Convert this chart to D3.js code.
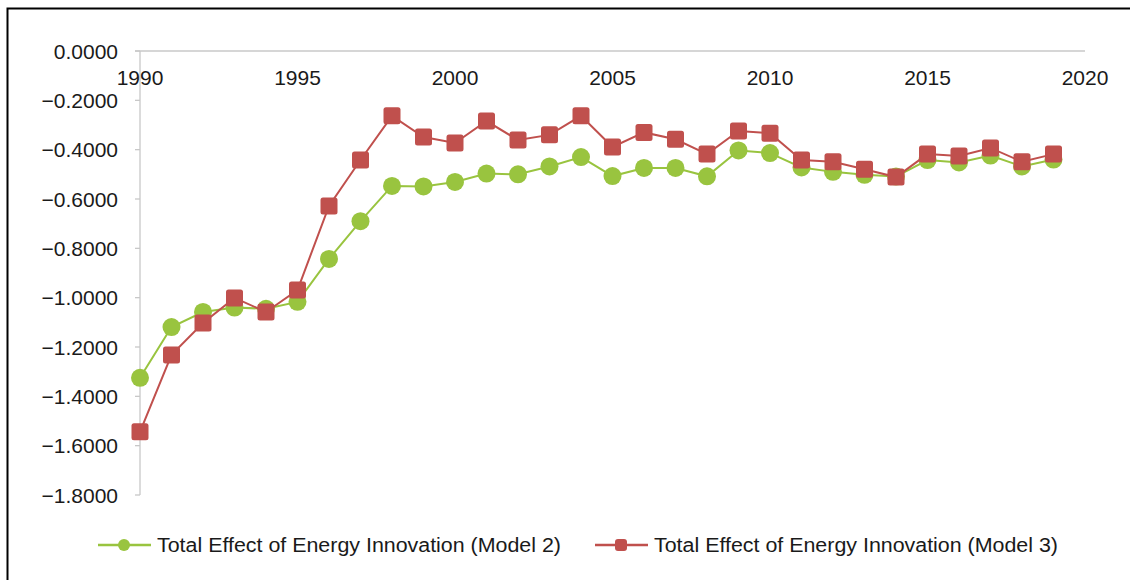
<!DOCTYPE html>
<html>
<head>
<meta charset="utf-8">
<script src="https://cdn.jsdelivr.net/npm/d3@7"></script>
<style>
  body { margin: 0; background: #fff; }
  text { font-family: "Liberation Sans", Arial, sans-serif; }
</style>
</head>
<body>
<script>
const years = d3.range(1990, 2020);
const model2 = [-1.325, -1.119, -1.058, -1.040, -1.045, -1.017, -0.843, -0.690, -0.547, -0.549,
  -0.531, -0.497, -0.500, -0.468, -0.430, -0.507, -0.474, -0.474, -0.508, -0.403,
  -0.414, -0.472, -0.490, -0.502, -0.509, -0.442, -0.452, -0.424, -0.468, -0.440];
const model3 = [-1.544, -1.232, -1.103, -1.001, -1.058, -0.969, -0.628, -0.442, -0.263, -0.349,
  -0.373, -0.284, -0.361, -0.340, -0.263, -0.389, -0.330, -0.358, -0.418, -0.324,
  -0.333, -0.442, -0.449, -0.479, -0.511, -0.418, -0.426, -0.393, -0.449, -0.418];
const xTicks = [1990, 1995, 2000, 2005, 2010, 2015, 2020];
const yTicks = [0, -0.2, -0.4, -0.6, -0.8, -1.0, -1.2, -1.4, -1.6, -1.8];
const seriesNames = ["Total Effect of Energy Innovation (Model 2)", "Total Effect of Energy Innovation (Model 3)"];

const width = 1130, height = 580;
const green = "#99c43f", red = "#c0504d";

const svg = d3.select("body").append("svg")
  .attr("width", width)
  .attr("height", height);

// chart frame (open at the right and bottom like the crop)
svg.append("path")
  .attr("d", "M7.5,600 V8.5 H1140")
  .attr("fill", "none")
  .attr("stroke", "#000")
  .attr("stroke-width", 2);

const x = d3.scaleLinear().domain([1990, 2020]).range([140, 1085]);
const y = d3.scaleLinear().domain([-1.8, 0]).range([495, 51]);

// horizontal axis at zero
svg.append("line")
  .attr("x1", 135).attr("x2", x(2020))
  .attr("y1", y(0)).attr("y2", y(0))
  .attr("stroke", "#c8c8c8").attr("stroke-width", 1.3);

// vertical axis
svg.append("line")
  .attr("x1", x(1990)).attr("x2", x(1990))
  .attr("y1", y(0)).attr("y2", y(-1.8))
  .attr("stroke", "#c8c8c8").attr("stroke-width", 1.3);

svg.selectAll(".ytick")
  .data(yTicks)
  .join("line")
  .attr("x1", 135).attr("x2", x(1990))
  .attr("y1", d => y(d)).attr("y2", d => y(d))
  .attr("stroke", "#c8c8c8").attr("stroke-width", 1.3);

const fmt = d3.format(".4f");
svg.selectAll(".ylabel")
  .data(yTicks)
  .join("text")
  .attr("x", 118)
  .attr("y", d => y(d))
  .attr("dy", "0.36em")
  .attr("text-anchor", "end")
  .attr("font-size", 21)
  .attr("fill", "#1a1a1a")
  .text(d => fmt(d).replace("-", "\u2013"));

svg.selectAll(".xlabel")
  .data(xTicks)
  .join("text")
  .attr("x", d => x(d))
  .attr("y", 85)
  .attr("text-anchor", "middle")
  .attr("font-size", 21)
  .attr("fill", "#1a1a1a")
  .text(d => d);

const line = d3.line()
  .x((d, i) => x(years[i]))
  .y(d => y(d));

// model 2
svg.append("path")
  .datum(model2)
  .attr("fill", "none")
  .attr("stroke", green)
  .attr("stroke-width", 2)
  .attr("d", line);
svg.selectAll(".m2")
  .data(model2)
  .join("circle")
  .attr("cx", (d, i) => x(years[i]))
  .attr("cy", d => y(d))
  .attr("r", 9)
  .attr("fill", green);

// model 3
svg.append("path")
  .datum(model3)
  .attr("fill", "none")
  .attr("stroke", red)
  .attr("stroke-width", 2)
  .attr("d", line);
svg.selectAll(".m3")
  .data(model3)
  .join("rect")
  .attr("x", (d, i) => x(years[i]) - 8.5)
  .attr("y", d => y(d) - 8.5)
  .attr("width", 17)
  .attr("height", 17)
  .attr("rx", 2.5)
  .attr("fill", red);

// legend
const legend = [
  { name: seriesNames[0], color: green, x0: 98, shape: "circle" },
  { name: seriesNames[1], color: red, x0: 595, shape: "rect" }
];
const ly = 545;
legend.forEach(l => {
  svg.append("line")
    .attr("x1", l.x0).attr("x2", l.x0 + 53)
    .attr("y1", ly).attr("y2", ly)
    .attr("stroke", l.color).attr("stroke-width", 2.5);
  if (l.shape === "circle") {
    svg.append("circle")
      .attr("cx", l.x0 + 26).attr("cy", ly).attr("r", 6)
      .attr("fill", l.color);
  } else {
    svg.append("rect")
      .attr("x", l.x0 + 20).attr("y", ly - 6)
      .attr("width", 12).attr("height", 12).attr("rx", 3)
      .attr("fill", l.color);
  }
  svg.append("text")
    .attr("x", l.x0 + 59)
    .attr("y", ly)
    .attr("dy", "0.36em")
    .attr("font-size", 20)
    .attr("textLength", 404)
    .attr("lengthAdjust", "spacingAndGlyphs")
    .attr("fill", "#1a1a1a")
    .text(l.name);
});
</script>
</body>
</html>
